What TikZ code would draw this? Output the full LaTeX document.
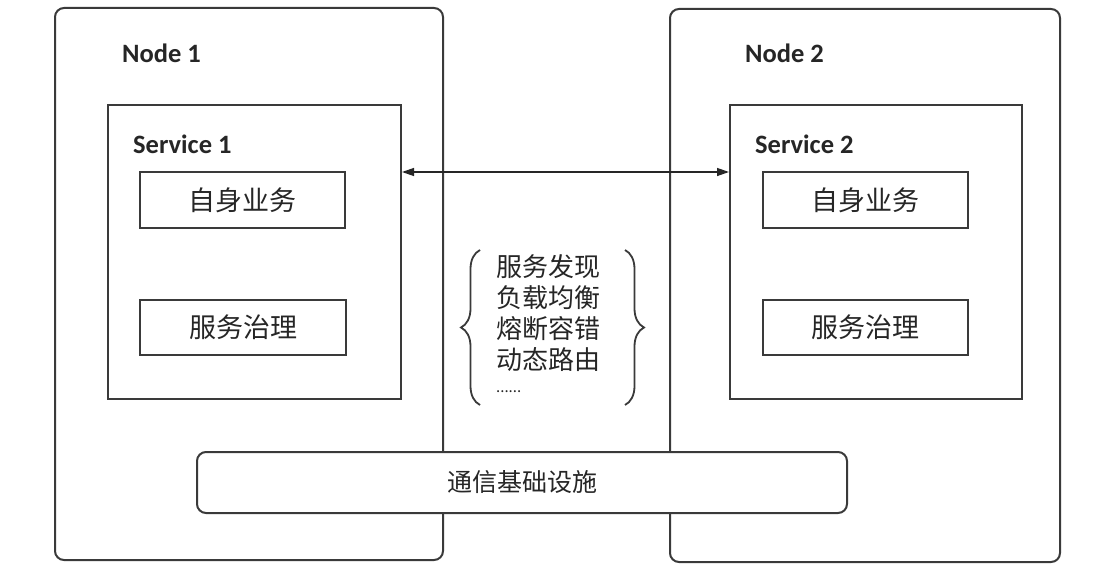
\documentclass[tikz,border=0pt]{standalone}
\usepackage{fontspec}
\setmainfont{Carlito}
\newfontfamily\cjk{Noto Sans CJK SC}
\usetikzlibrary{arrows.meta,decorations.pathreplacing}
\definecolor{ln}{HTML}{3A3A3A}
\tikzset{
  nodebox/.style={draw=ln, line width=2pt, rounded corners=9pt, fill=white},
  svcbox/.style={draw=ln, line width=2pt, fill=white},
  funcbox/.style={draw=ln, line width=2pt, fill=white, font=\cjk\fontsize{27}{31}\selectfont, text=black!85},
  title/.style={anchor=west, font=\bfseries\fontsize{26.5}{30}\selectfont, text=black!85, inner sep=0pt},
  barbox/.style={draw=ln, line width=2pt, rounded corners=9pt, fill=white, font=\cjk\fontsize{25}{29}\selectfont, text=black!85},
  brc/.style={draw=ln, line width=1.8pt, decorate, decoration={brace, amplitude=19pt, aspect=0.5}},
}
\begin{document}
\begin{tikzpicture}[x=1pt,y=-1pt]
\useasboundingbox (0,0) rectangle (1097,575);
\fill[white] (0,0) rectangle (1097,575);
% outer nodes
\node[nodebox, minimum width=388pt, minimum height=552pt] (n1) at (249,284) {};
\node[nodebox, minimum width=390pt, minimum height=553pt] (n2) at (865,285.5) {};
\node[title] (n1t) at (122,53) {Node 1};
\node[title] (n2t) at (745,53) {Node 2};
% services
\node[svcbox, minimum width=293pt, minimum height=294pt] (s1) at (254.5,252) {};
\node[svcbox, minimum width=292pt, minimum height=294pt] (s2) at (876,252) {};
\node[title] (s1t) at (133,144) {Service 1};
\node[title] (s2t) at (755,144) {Service 2};
% function boxes
\node[funcbox, minimum width=205pt, minimum height=56pt] (a1) at (242.5,200) {自身业务};
\node[funcbox, minimum width=205pt, minimum height=56pt] (a2) at (865.5,200) {自身业务};
\node[funcbox, minimum width=206pt, minimum height=55pt] (b1) at (243,327.5) {服务治理};
\node[funcbox, minimum width=205pt, minimum height=55pt] (b2) at (865.5,327.5) {服务治理};
% arrow between services
\draw[draw=black!85, line width=1.3pt, {Triangle[length=12pt,width=8pt]}-{Triangle[length=12pt,width=8pt]}]
  ([yshift=-68pt]s1.north east) -- ([yshift=-68pt]s2.north west);
% governance list
\node[anchor=north west, align=left, inner sep=0pt, text=black!85,
      font=\cjk\fontsize{26}{31}\selectfont] (gl) at (496,254)
  {服务发现\\负载均衡\\熔断容错\\动态路由\\[-8pt]{\fontsize{15}{16}\selectfont ......}};
\coordinate (lb1) at (480,405);
\coordinate (lb2) at (480,250);
\coordinate (rb1) at (625,250);
\coordinate (rb2) at (625,405);
\draw[brc] (lb1) -- (lb2);
\draw[brc] (rb1) -- (rb2);
% communication bar
\node[barbox, minimum width=650pt, minimum height=61pt] (bar) at (522,482.5) {通信基础设施};
\end{tikzpicture}
\end{document}
